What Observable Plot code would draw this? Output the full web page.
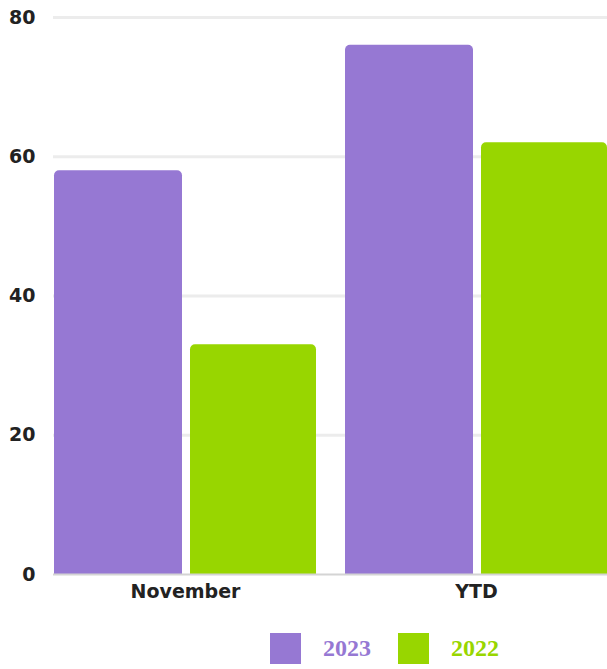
<!DOCTYPE html>
<html>
<head>
<meta charset="utf-8">
<script src="https://cdn.jsdelivr.net/npm/d3@7"></script>
<script src="https://cdn.jsdelivr.net/npm/@observablehq/plot@0.6"></script>
<style>
  html, body { margin: 0; padding: 0; background: #fff; }
  #chart svg { display: block; }
  .legend { display: flex; align-items: center; margin-top: 23px; padding-left: 270px; font-family: "Liberation Serif", "DejaVu Serif", serif; font-weight: bold; font-size: 24px; }
  .legend .sw { width: 31px; height: 31px; margin-right: 22px; }
  .legend .lab { margin-right: 27px; }
</style>
</head>
<body>
<div id="chart"></div>
<div class="legend" id="legend"></div>
<script>
const categories = ["November", "YTD"];
const years = ["2023", "2022"];
const values2023 = [58, 76];
const values2022 = [33, 62];
const yTicks = [0, 20, 40, 60, 80];
const colors = ["#9678d3", "#98d600"];

const data2023 = categories.map((c, i) => ({category: c, year: years[0], value: values2023[i]}));
const data2022 = categories.map((c, i) => ({category: c, year: years[1], value: values2022[i]}));

const chart = Plot.plot({
  width: 607,
  height: 610,
  marginTop: 17,
  marginLeft: 53,
  marginRight: 0,
  marginBottom: 36,
  style: {fontFamily: "'DejaVu Sans', sans-serif", fontSize: "19px", fontWeight: "bold", color: "#222"},
  x: {domain: categories, paddingInner: 0.1, paddingOuter: 0, label: null, tickSize: 0, tickPadding: 10},
  y: {domain: [0, 80], ticks: yTicks, label: null, tickSize: 0, tickPadding: 18},
  color: {domain: years, range: colors},
  marks: [
    Plot.ruleY(yTicks.filter(d => d > 0), {stroke: "#ececec", strokeWidth: 3}),
    Plot.barY(data2023, {x: "category", y: "value", fill: "year", insetRight: 134, ry1: 5}),
    Plot.barY(data2022, {x: "category", y: "value", fill: "year", insetLeft: 136, ry1: 5}),
    Plot.ruleY([0], {stroke: "#d4d4d4", strokeWidth: 2})
  ]
});
document.getElementById("chart").appendChild(chart);

const legend = document.getElementById("legend");
years.forEach((y, i) => {
  const sw = document.createElement("div");
  sw.className = "sw";
  sw.style.background = colors[i];
  const lab = document.createElement("span");
  lab.className = "lab";
  lab.style.color = colors[i];
  lab.textContent = y;
  legend.appendChild(sw);
  legend.appendChild(lab);
});
</script>
</body>
</html>
